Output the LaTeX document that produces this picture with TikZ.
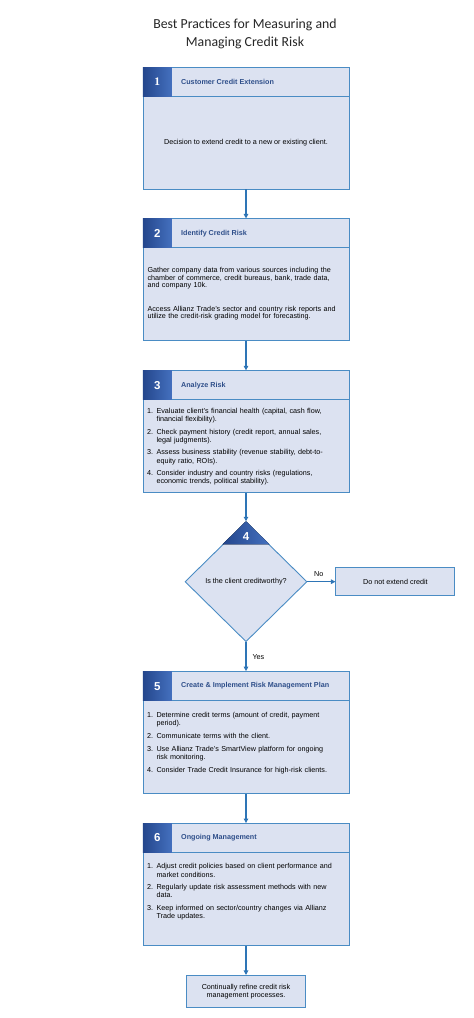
\documentclass[tikz,border=0pt]{standalone}
\usepackage{fontspec}
\setmainfont{Liberation Sans}
\newfontfamily\titlefont{Carlito}
\newfontfamily\serifnum{Liberation Serif}
\usepackage{enumitem}
\setlist[enumerate]{label=\arabic*.,leftmargin=9.5pt,labelsep=2.5pt,labelwidth=7pt,align=left,%
                    itemsep=4.6pt,parsep=0pt,topsep=0pt,partopsep=0pt}
\usetikzlibrary{arrows.meta,positioning,shapes.geometric,calc}
\definecolor{boxfill}{HTML}{DCE2F1}
\definecolor{boxline}{HTML}{4A8CC4}
\definecolor{numblue}{HTML}{24468C}
\definecolor{numlight}{HTML}{4470BE}
\definecolor{headink}{HTML}{2F4F8A}
\definecolor{flowblue}{HTML}{2E75B6}
\definecolor{titleink}{HTML}{262626}
\tikzset{
  stepbox/.style ={draw=boxline,line width=0.9pt,fill=boxfill,minimum width=206pt,
                   minimum height=122pt,inner sep=0pt},
  headbar/.style ={draw=boxline,line width=0.9pt,fill=boxfill,minimum width=206pt,
                   minimum height=29pt,inner sep=0pt,anchor=north},
  numtxt/.style  ={text=white,font=\fontsize{11.5}{13}\selectfont\bfseries,inner sep=0pt},
  numcell/.style ={numtxt,left color=numblue,right color=numlight,minimum width=29pt,
                   minimum height=29pt,anchor=west},
  headtxt/.style ={text=headink,font=\fontsize{7.2}{8}\selectfont\bfseries,inner sep=0pt},
  bodytxt/.style ={text width=197pt,align=left,inner sep=0pt,font=\fontsize{7.2}{7.5}\selectfont},
  listtxt/.style ={text width=197pt,align=left,inner sep=0pt,font=\fontsize{7.2}{8.1}\selectfont},
  plainbox/.style={draw=boxline,line width=0.9pt,fill=boxfill,inner sep=0pt,align=center,
                   font=\fontsize{7.2}{8.2}\selectfont},
  decision/.style={diamond,draw=boxline,line width=0.9pt,fill=boxfill,minimum width=122pt,
                   minimum height=120pt,inner sep=0pt,font=\fontsize{7.2}{8}\selectfont},
  flow/.style    ={-{Triangle[length=4.5pt,width=4.5pt]},line width=1.1pt,draw=flowblue},
  lbl/.style     ={font=\fontsize{7.2}{8}\selectfont,inner sep=1pt}
}
\begin{document}
\begin{tikzpicture}[x=1pt,y=1pt,node distance=29pt]
  \useasboundingbox (0,0) rectangle (474,-1018);
  \node[font=\titlefont\fontsize{13.8}{18}\selectfont,align=center,text=titleink] (title) at (245,-34)
    {Best Practices for Measuring and\\Managing Credit Risk};
  \node[stepbox] (s1) at (246,-128) {};
  \node[headbar] (h1) at (s1.north) {};
  \node[numcell] (n1) at (h1.west) {\serifnum 1};
  \node[headtxt,right=9pt of n1] (t1) {Customer Credit Extension};
  \node[font=\fontsize{7.2}{8}\selectfont,inner sep=0pt] (b1) at ($(h1.south)!0.5!(s1.south)$)
    {Decision to extend credit to a new or existing client.};
  \node[stepbox,below=of s1] (s2) {};
  \node[headbar] (h2) at (s2.north) {};
  \node[numcell] (n2) at (h2.west) {2};
  \node[headtxt,right=9pt of n2] (t2) {Identify Credit Risk};
  \node[bodytxt] (b2) at ([yshift=1pt]$(h2.south)!0.5!(s2.south)$)
    {Gather company data from various sources including the\\chamber of commerce, credit bureaus, bank, trade data,\\and company 10k.\\[16pt]Access Allianz Trade's sector and country risk reports and\\utilize the credit-risk grading model for forecasting.};
  \node[stepbox,below=of s2] (s3) {};
  \node[headbar] (h3) at (s3.north) {};
  \node[numcell] (n3) at (h3.west) {3};
  \node[headtxt,right=9pt of n3] (t3) {Analyze Risk};
  \node[listtxt] (b3) at ([xshift=-0.5pt,yshift=1.5pt]$(h3.south)!0.5!(s3.south)$) {\begin{enumerate}
    \item Evaluate client's financial health (capital, cash flow,\newline financial flexibility).
    \item Check payment history (credit report, annual sales,\newline legal judgments).
    \item Assess business stability (revenue stability, debt-to-\newline equity ratio, ROIs).
    \item Consider industry and country risks (regulations,\newline economic trends, political stability).
  \end{enumerate}};
  \node[decision,below=28pt of s3] (d) {Is the client creditworthy?};
  \fill[left color=numblue,right color=numlight] (d.north) -- ($(d.north)!0.383!(d.west)$)
    -- ($(d.north)!0.383!(d.east)$) -- cycle;
  \node[numtxt] (n4) at ([yshift=-15pt]d.north) {4};
  \node[plainbox,minimum width=119pt,minimum height=28pt,right=28pt of d] (nobox) {Do not extend credit};
  \node[stepbox,below=of d] (s5) {};
  \node[headbar] (h5) at (s5.north) {};
  \node[numcell] (n5) at (h5.west) {5};
  \node[headtxt,right=9pt of n5] (t5) {Create \& Implement Risk Management Plan};
  \node[listtxt] (b5) at ([xshift=-0.5pt,yshift=6pt]$(h5.south)!0.5!(s5.south)$) {\begin{enumerate}
    \item Determine credit terms (amount of credit, payment\newline period).
    \item Communicate terms with the client.
    \item Use Allianz Trade's SmartView platform for ongoing\newline risk monitoring.
    \item Consider Trade Credit Insurance for high-risk clients.
  \end{enumerate}};
  \node[stepbox,below=of s5] (s6) {};
  \node[headbar] (h6) at (s6.north) {};
  \node[numcell] (n6) at (h6.west) {6};
  \node[headtxt,right=9pt of n6] (t6) {Ongoing Management};
  \node[listtxt] (b6) at ([xshift=-0.5pt,yshift=9pt]$(h6.south)!0.5!(s6.south)$) {\begin{enumerate}
    \item Adjust credit policies based on client performance and\newline market conditions.
    \item Regularly update risk assessment methods with new\newline data.
    \item Keep informed on sector/country changes via Allianz\newline Trade updates.
  \end{enumerate}};
  \node[plainbox,minimum width=119pt,minimum height=32pt,below=of s6] (fin)
    {Continually refine credit risk\\management processes.};
  \draw[flow] (s1) -- (s2);
  \draw[flow] (s2) -- (s3);
  \draw[flow] (s3) -- (d);
  \draw[flow] (d) -- node[lbl,above=4pt,pos=0.4] {No} (nobox);
  \draw[flow] (d) -- node[lbl,right=5pt] {Yes} (s5);
  \draw[flow] (s5) -- (s6);
  \draw[flow] (s6) -- (fin);
\end{tikzpicture}
\end{document}
